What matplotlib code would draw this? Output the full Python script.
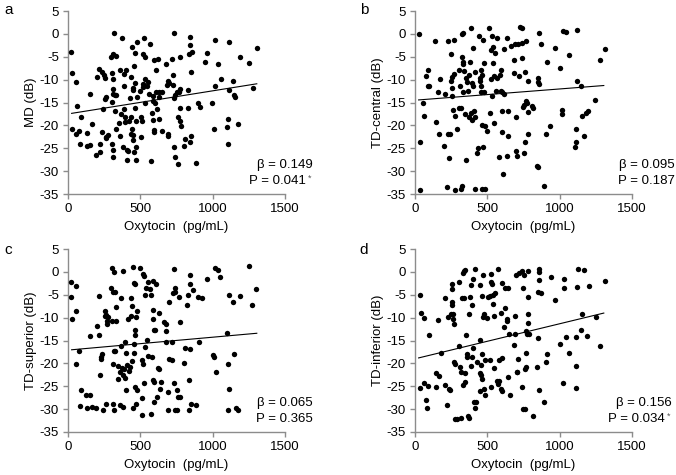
import matplotlib
matplotlib.use('Agg')
import matplotlib.pyplot as plt
import numpy as np

plt.rcParams['font.family'] = ['Liberation Sans', 'DejaVu Sans']
plt.rcParams['axes.unicode_minus'] = False

# panel a: MD
ox_a = [23, 28, 53, 62, 25, 53, 74, 83, 88, 130, 132, 150, 153, 164, 197, 201, 215, 220, 220, 234,
        238, 243, 250, 259, 257, 262, 266, 275, 266, 296, 313, 317, 329, 306, 310, 308, 301, 310, 324, 333,
        324, 306, 313, 308, 333, 350, 359, 361, 368, 375, 387, 387, 389, 398, 394, 377, 405, 391, 410, 417,
        419, 428, 435, 435, 444, 435, 447, 447, 444, 449, 451, 456, 458, 461, 465, 463, 472, 468, 475, 475,
        470, 498, 505, 509, 507, 516, 516, 521, 528, 532, 535, 535, 544, 553, 558, 567, 572, 579, 590, 590,
        590, 595, 595, 597, 604, 606, 609, 613, 625, 627, 632, 632, 648, 650, 674, 683, 688, 694, 694, 701,
        722, 725, 725, 734, 736, 736, 743, 743, 752, 757, 759, 766, 771, 771, 775, 775, 780, 799, 806, 831,
        831, 838, 840, 840, 840, 847, 850, 856, 887, 896, 910, 949, 961, 993, 1009, 1014, 1018, 1035, 1056, 1100,
        1104, 1109, 1111, 1113, 1139, 1148, 1157, 1176, 1188, 1250, 1278, 1303]
md_a = [-3.9, -8.6, -10.6, -15.7, -20.8, -21.9, -21.2, -24.1, -18.2, -24.6, -21.6, -24.3, -13.1, -19.8, -26.5, -9.4, -7.6, -24.1, -25.9, -21.4,
        -8.4, -16.4, -8.9, -9.6, -14.2, -22.5, -22.8, -22.2, -13.7, -5.0, -4.5, 0.1, -4.8, -8.6, -9.9, -12.0, -14.9, -13.1, -13.4, -13.4,
        -16.8, -24.1, -25.4, -27.0, -20.8, -19.4, -22.3, -8.0, -17.5, -0.9, -11.5, -8.8, -16.4, -7.8, -18.1, -24.8, -25.3, -19.2, -27.6, -25.5,
        -19.1, -14.0, -18.2, -21.8, -20.9, -9.4, -12.3, -11.8, -2.8, -22.0, -23.2, -25.8, -7.0, -16.2, -10.8, -4.1, -24.8, -27.6, -13.7, -1.8,
        -19.1, -12.4, -18.2, -19.0, -22.6, -4.5, -10.9, -11.7, -0.9, -9.9, -5.1, -15.0, -11.5, -10.6, -13.1, -2.3, -27.7, -17.4, -13.5, -14.6,
        -18.8, -5.8, -21.0, -21.4, -15.1, -7.9, -12.6, -16.5, -5.5, -13.9, -12.6, -18.6, -21.3, -12.6, -6.6, -11.2, -10.4, -21.9, -22.3, -10.8,
        -5.5, -8.9, -11.2, 0.1, -24.8, -14.0, -13.4, -26.9, -12.8, -18.2, -28.5, -12.6, -19.0, -16.3, -5.0, -12.0, -20.1, -24.5, -23.0, -12.3,
        -16.2, -4.4, -2.4, -0.7, -23.7, -8.4, -22.3, -4.0, -28.3, -15.2, -15.9, -6.2, -4.2, -15.0, -20.8, -11.3, -1.3, -6.6, -9.9, -20.3,
        -18.6, -24.1, -1.8, -12.2, -10.2, -13.4, -13.9, -19.7, -5.1, -6.3, -11.8, -3.1]

# panel b: TD-central
ox_b = [30, 35, 35, 58, 62, 74, 88, 92, 99, 141, 143, 159, 164, 173, 203, 208, 224, 226, 231, 238,
        242, 249, 249, 254, 256, 258, 265, 270, 272, 275, 277, 289, 305, 307, 312, 316, 318, 323, 325, 330,
        325, 330, 335, 335, 339, 344, 353, 353, 358, 369, 374, 376, 381, 388, 390, 392, 395, 399, 404, 409,
        413, 418, 415, 427, 434, 443, 446, 450, 455, 457, 459, 462, 464, 466, 471, 473, 478, 480, 482, 487,
        498, 510, 515, 524, 524, 531, 535, 538, 542, 545, 549, 556, 558, 565, 570, 582, 589, 595, 597, 600,
        602, 604, 607, 612, 612, 635, 639, 641, 646, 662, 681, 686, 690, 697, 699, 704, 715, 722, 727, 738,
        738, 740, 745, 750, 752, 757, 762, 764, 768, 773, 778, 780, 782, 812, 819, 842, 847, 847, 849, 854,
        854, 870, 893, 905, 912, 935, 965, 1004, 1015, 1018, 1022, 1041, 1064, 1108, 1115, 1115, 1119, 1119, 1147, 1151,
        1165, 1182, 1193, 1246, 1281, 1311]
tdc_b = [0.0, -23.7, -34.1, -15.2, -17.9, -9.1, -7.9, -11.3, -11.5, -1.6, -19.3, -12.8, -21.8, -9.9, -24.6, -13.1, -33.4, -1.6, -21.9, -27.2,
         -21.9, -4.4, -10.2, -9.5, -11.8, -13.5, -16.6, -1.3, -8.8, -17.9, -34.1, -20.8, -7.9, -16.1, -11.3, -16.2, -33.8, -33.2, 0.0, 0.1,
         -5.1, -6.2, -6.6, -12.6, -8.2, -17.5, -27.5, -9.6, -10.6, -12.4, -9.0, -18.2, -6.2, -17.3, 1.2, -10.8, -18.8, -3.1, -11.3, -16.8,
         -18.2, -8.4, -33.9, -26.1, -25.0, -0.4, -9.7, -10.2, -11.3, -12.8, -7.9, -8.9, -19.9, -33.9, -1.3, -24.8, -6.4, -12.6, -33.9, -20.2,
         -21.2, 1.2, -17.4, -9.9, -3.5, -13.5, -0.5, -6.4, -2.9, -9.1, -19.5, -4.2, -12.4, -9.6, -0.9, -26.9, -8.9, -8.0, -12.4, -16.8,
         -12.8, -21.5, -30.7, -3.3, -13.1, -0.9, -26.6, -22.3, -16.8, -2.6, -8.6, -5.7, -2.2, -18.2, -25.5, -26.8, -2.2, -9.3, 1.5, 1.3,
         -5.3, -2.0, -15.9, -15.5, -26.1, -23.7, -8.4, -14.7, -1.6, -15.2, -10.2, -17.0, -21.9, -15.7, -16.2, -28.8, -29.2, -9.6, -10.6, -10.9,
         0.1, -2.2, -33.2, -21.9, -6.2, -20.1, -3.1, -7.5, -17.5, -16.6, 0.7, 0.5, -4.7, -24.8, -20.9, -23.6, -10.2, 0.9, -11.3, -17.9,
         -22.3, -17.2, -16.8, -14.5, -5.7, -3.3]

# panel c: TD-superior
ox_c = [23, 19, 28, 53, 58, 53, 74, 81, 88, 127, 132, 150, 155, 169, 197, 201, 213, 215, 220, 225,
        231, 236, 243, 255, 255, 262, 266, 271, 273, 278, 296, 301, 306, 308, 310, 313, 315, 317, 319, 324,
        326, 331, 331, 345, 347, 356, 359, 363, 366, 370, 377, 380, 382, 389, 394, 394, 398, 400, 407, 417,
        424, 428, 433, 435, 440, 444, 447, 449, 456, 458, 456, 461, 461, 463, 465, 468, 472, 475, 477, 500,
        509, 512, 514, 516, 521, 525, 525, 532, 535, 537, 546, 553, 553, 567, 572, 574, 581, 586, 588, 590,
        590, 593, 595, 597, 602, 609, 616, 620, 627, 630, 637, 644, 667, 674, 676, 676, 688, 692, 699, 701,
        718, 720, 729, 734, 736, 738, 743, 743, 752, 755, 759, 764, 771, 771, 799, 806, 826, 831, 833, 836,
        840, 840, 845, 850, 861, 887, 896, 905, 928, 961, 1000, 1007, 1014, 1021, 1035, 1053, 1100, 1104, 1109, 1111,
        1111, 1141, 1146, 1164, 1178, 1188, 1248, 1275, 1301]
tds_c = [-2.2, -5.5, -10.4, -8.6, -3.1, -20.1, -17.3, -29.3, -25.9, -27.0, -29.7, -14.1, -27.0, -29.6, -29.8, -11.8, -5.3, -13.9, -22.6, -19.1,
         -18.6, -17.9, -30.1, -8.6, -9.7, -28.8, -9.5, -10.8, -11.3, -9.9, -3.6, -10.8, 0.9, -28.8, -20.1, -4.5, 0.0, -30.3, -17.2, -17.4,
         -4.5, -10.8, -7.7, -23.4, -20.6, -21.9, -29.0, -5.8, -16.1, -21.1, 0.2, -22.5, -29.6, -21.2, -15.3, -23.1, -25.9, -17.7, -20.4, -10.4,
         -21.7, -20.8, -5.8, -9.7, -19.5, -7.4, -29.8, 1.1, -17.7, -15.7, -2.4, -2.7, -25.2, -12.8, -13.9, -9.9, -28.8, -25.9, -8.6, 0.9,
         -19.3, -31.2, -27.5, -20.2, -0.4, -0.9, -24.3, -16.4, -5.1, -3.6, -14.8, -2.2, -18.4, -3.8, -31.0, -5.0, -18.5, -2.0, -23.7, -8.4,
         -10.2, -12.8, -24.1, -28.5, -12.6, -2.6, -27.4, -21.0, -21.3, -8.9, -25.7, -24.1, -10.9, -11.3, -13.0, -15.3, -26.3, -30.3, -19.1, -6.6,
         -19.3, -15.4, -4.7, 0.6, -24.3, -30.3, -3.6, -4.4, -30.3, -25.9, -27.4, -5.6, -27.4, -10.9, -19.9, -16.6, -7.3, -5.0, -23.6, -30.1,
         -2.6, -0.6, -16.8, -28.8, -4.0, -29.1, -5.5, -15.3, -5.7, -1.5, -18.2, -18.6, 0.9, -21.9, 0.4, -1.2, -13.4, -20.1, -30.1, -5.0,
         -25.7, -6.6, -17.9, -29.7, -30.1, -5.3, 1.3, -7.3, -3.8]

# panel d: TD-inferior
ox_d = [35, 35, 44, 62, 62, 74, 85, 90, 99, 143, 145, 162, 168, 178, 208, 210, 219, 226, 233, 242,
        249, 254, 254, 256, 258, 261, 265, 270, 272, 277, 279, 289, 305, 307, 312, 316, 321, 328, 330, 335,
        339, 339, 344, 346, 348, 353, 358, 362, 367, 372, 376, 381, 385, 390, 395, 397, 399, 404, 406, 415,
        418, 422, 432, 446, 446, 450, 452, 455, 459, 462, 464, 466, 469, 473, 475, 478, 482, 487, 496, 508,
        515, 519, 524, 526, 526, 531, 538, 542, 545, 549, 554, 565, 572, 577, 579, 584, 593, 596, 600, 602,
        604, 612, 619, 623, 635, 635, 642, 646, 649, 658, 686, 690, 694, 699, 704, 708, 715, 722, 738, 741,
        745, 748, 750, 757, 762, 766, 768, 768, 773, 778, 778, 780, 782, 787, 817, 842, 849, 852, 854, 856,
        856, 858, 870, 895, 905, 912, 942, 969, 1004, 1022, 1027, 1027, 1045, 1066, 1110, 1115, 1115, 1119, 1124, 1147,
        1156, 1170, 1189, 1200, 1253, 1281, 1311]
tdi_d = [-5.0, -25.4, -9.0, -10.1, -24.3, -28.0, -29.8, -25.0, -13.9, -22.1, -25.2, -10.6, -22.8, -17.7, -5.7, -24.7, -29.1, -9.9, -25.5, -25.9,
         -9.1, -2.6, -3.8, -6.6, -7.3, -10.4, -9.3, -11.3, -19.6, -20.1, -32.1, -32.1, -2.2, -16.1, -20.8, -21.9, -32.0, -5.8, -24.7, -0.2,
         0.1, -5.7, 0.4, -22.0, -24.1, -13.9, -17.9, -18.6, -31.4, -9.1, -32.0, -5.5, -20.6, -2.8, -7.2, -18.6, -1.5, -16.6, -28.5, 0.6,
         -29.8, -28.5, -19.7, -22.0, -14.8, -2.8, -26.1, -22.6, -20.3, -23.5, -5.3, -17.9, -9.9, -0.6, -9.3, -25.5, -19.3, -27.0, -10.0, -5.5,
         -19.3, -5.3, -2.3, -25.2, -0.5, -2.7, -5.0, -7.1, -21.0, -9.7, -4.7, -23.9, 0.7, -24.5, -23.9, -19.3, -9.0, -25.5, -26.1, -2.4,
         -18.8, -12.0, -3.6, -8.0, -10.4, -10.8, -3.6, -23.0, -13.6, -26.9, -15.9, -9.6, -13.5, -0.6, -21.8, -21.9, -19.0, -0.2, 0.1, -25.2,
         -3.5, -29.9, -0.6, -21.2, -29.9, -17.7, -20.8, -13.0, -13.6, -5.5, 0.1, -9.3, -11.1, -13.5, -31.6, -20.7, -14.5, -4.5, -1.8, 0.6,
         0.0, -25.9, -4.6, -28.5, -19.6, -17.9, -1.1, -6.2, -15.8, -24.3, -3.6, -1.5, -14.2, -17.7, -25.4, -20.6, -14.2, -3.3, 0.7, -12.8,
         -9.3, 0.4, -14.0, -3.1, -9.9, -16.3, -1.9]

# fitted lines: (slope, intercept)
fit_a = (0.00505, -17.5)
fit_b = (0.00246, -14.5)
fit_c = (0.00282, -17.1)
fit_d = (0.00766, -19.0)
fit_range = (25, 1305)

ylabels = ['MD (dB)', 'TD-central (dB)', 'TD-superior (dB)', 'TD-inferior (dB)']
letters = ['a', 'b', 'c', 'd']
betas = ['0.149', '0.095', '0.065', '0.156']
pvals = ['0.041', '0.187', '0.365', '0.034']
signif = [True, False, False, True]

panels = [(ox_a, md_a, fit_a), (ox_b, tdc_b, fit_b), (ox_c, tds_c, fit_c), (ox_d, tdi_d, fit_d)]

fig = plt.figure(figsize=(6.76, 4.75), dpi=100)
W, H = 676, 475
boxes = [(68, 11), (415, 11), (68, 249), (415, 249)]
aw, ah = 217, 183
text_x = [313, 675, 313, 672]
letter_pos = [(4, 10), (360, 10), (4, 250), (359, 250)]
spine_col = '#8c8c8c'

for i, (xs, ys, fit) in enumerate(panels):
    left, top = boxes[i]
    ax = fig.add_axes([left / W, 1 - (top + ah) / H, aw / W, ah / H])
    ax.scatter(xs, ys, s=15, color='black', linewidths=0, zorder=3)
    lx = np.array(fit_range)
    ax.plot(lx, fit[0] * lx + fit[1], color='black', lw=0.8, zorder=2)
    ax.set_xlim(0, 1500)
    ax.set_ylim(-35, 5)
    ax.set_xticks([0, 500, 1000, 1500])
    ax.set_yticks(np.arange(-35, 6, 5))
    for sp in ['top', 'right']:
        ax.spines[sp].set_visible(False)
    for sp in ['left', 'bottom']:
        ax.spines[sp].set_color(spine_col)
        ax.spines[sp].set_linewidth(1.0)
    ax.tick_params(direction='out', length=3.5, width=1.0, color=spine_col,
                   labelsize=9.5, pad=3)
    ax.set_xlabel('Oxytocin  (pg/mL)', fontsize=9.5, labelpad=4)
    ax.set_ylabel(ylabels[i], fontsize=9.5, labelpad=2)
    ax.patch.set_visible(False)

    tx = (text_x[i] - left) / aw
    ax.text(tx, 0.16, '\u03b2 = ' + betas[i], transform=ax.transAxes,
            ha='right', va='center', fontsize=9.5)
    if signif[i]:
        t = ax.text(tx - 0.035, 0.07, 'P = ' + pvals[i], transform=ax.transAxes,
                    ha='right', va='center', fontsize=9.5)
        ax.annotate('*', xy=(1, 0.75), xycoords=t, xytext=(1.5, 0),
                    textcoords='offset points', ha='left', va='center',
                    fontsize=6.5, color='#555555')
    else:
        ax.text(tx, 0.07, 'P = ' + pvals[i], transform=ax.transAxes,
                ha='right', va='center', fontsize=9.5)

    lxp, lyp = letter_pos[i]
    fig.text(lxp / W, 1 - lyp / H, letters[i], fontsize=11, ha='left', va='center')

fig.savefig('out.png', dpi=100)
